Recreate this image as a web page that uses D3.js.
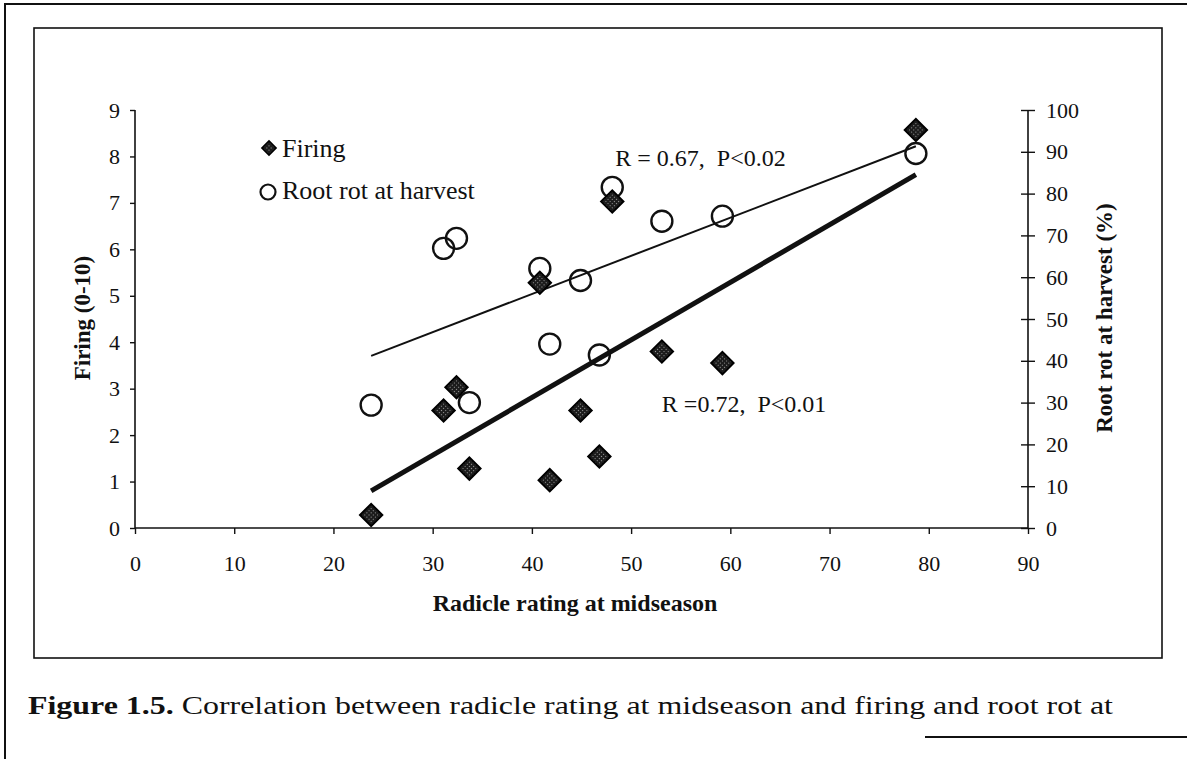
<!DOCTYPE html>
<html>
<head>
<meta charset="utf-8">
<script src="https://cdn.jsdelivr.net/npm/d3@7"></script>
<style>
  body { margin: 0; background: #fff; }
  svg { display: block; }
  text { font-family: "Liberation Serif", "Times New Roman", serif; fill: #111; }
</style>
</head>
<body>
<svg id="chart" width="1187" height="759"></svg>
<script>
// Chart data
var radicle = [23.8, 31.1, 32.4, 33.7, 40.8, 41.8, 44.9, 46.8, 48.1, 53.1, 59.2, 78.7];
var firing = [0.28, 2.53, 3.03, 1.28, 5.28, 1.03, 2.53, 1.54, 7.03, 3.80, 3.55, 8.57];
var rootRot = [29.4, 66.9, 69.3, 30.0, 62.1, 44.0, 59.2, 41.4, 81.5, 73.4, 74.6, 89.6];
var xTicks = [0, 10, 20, 30, 40, 50, 60, 70, 80, 90];
var leftTicks = [0, 1, 2, 3, 4, 5, 6, 7, 8, 9];
var rightTicks = [0, 10, 20, 30, 40, 50, 60, 70, 80, 90, 100];
var seriesNames = ["Firing", "Root rot at harvest"];
var notes = ["R = 0.67,  P<0.02", "R =0.72,  P<0.01"];
var xTitle = "Radicle rating at midseason";
var yTitleLeft = "Firing (0-10)";
var yTitleRight = "Root rot at harvest (%)";
var captionBold = "Figure 1.5.";
var captionText = " Correlation between radicle rating at midseason and firing and root rot at";

var chart = { left: 135, right: 1028, top: 110, bottom: 528 };

// Least squares fit, drawn from min x to max x
function fitLine(xs, ys) {
	let mx = d3.mean(xs), my = d3.mean(ys);
	let sxy = d3.sum(xs, (x, i) => (x - mx) * (ys[i] - my));
	let sxx = d3.sum(xs, (x) => (x - mx) * (x - mx));
	let b = sxy / sxx, a = my - b * mx;
	let x0 = d3.min(xs), x1 = d3.max(xs);
	return [[x0, a + b * x0], [x1, a + b * x1]];
}

var svg = d3.select("#chart");

// Dotted dark fill of the diamonds (printed halftone)
let pat = svg.append("defs").append("pattern")
	.attr("id", "dots")
	.attr("width", 3).attr("height", 3)
	.attr("patternUnits", "userSpaceOnUse");
pat.append("rect").attr("width", 3).attr("height", 3).attr("fill", "#1c1c1c");
pat.append("rect").attr("x", 1).attr("y", 1).attr("width", 1).attr("height", 1).attr("fill", "#9a9a9a");

let x = d3.scaleLinear().domain([0, 90]).range([chart.left, chart.right]);
let yL = d3.scaleLinear().domain([0, 9]).range([chart.bottom, chart.top]);
let yR = d3.scaleLinear().domain([0, 100]).range([chart.bottom, chart.top]);

// Frames of the scanned page
let frame = svg.append("g").attr("fill", "none").attr("stroke", "#111");
frame.append("path").attr("stroke-width", 2).attr("d", "M1187,4H5V759");
frame.append("line").attr("stroke-width", 2)
	.attr("x1", 925).attr("x2", 1187).attr("y1", 737).attr("y2", 737);
frame.append("rect").attr("stroke-width", 1.6)
	.attr("x", 34).attr("y", 28).attr("width", 1128).attr("height", 630);

// Axes
let axisFont = (g) => g.selectAll("text")
	.style("font-family", "Liberation Serif")
	.style("font-size", "22px")
	.attr("fill", "#111");

let gx = svg.append("g")
	.attr("transform", "translate(0," + chart.bottom + ")")
	.call(d3.axisBottom(x).tickValues(xTicks).tickSize(6).tickPadding(21).tickFormat(d3.format("d")))
	.call(axisFont);

let gl = svg.append("g")
	.attr("transform", "translate(" + chart.left + ",0)")
	.call(d3.axisLeft(yL).tickValues(leftTicks).tickSize(5).tickPadding(10).tickFormat(d3.format("d")))
	.call(axisFont);

let gr = svg.append("g")
	.attr("transform", "translate(" + chart.right + ",0)")
	.call(d3.axisRight(yR).tickValues(rightTicks).tickSize(7).tickPadding(11).tickFormat(d3.format("d")))
	.call(axisFont);
// right axis ticks cross the line
gr.selectAll(".tick line").attr("x1", -7).attr("x2", 7);

[gx, gl, gr].forEach((g) => {
	g.select(".domain").attr("stroke", "#111").attr("stroke-width", 1.6);
	g.selectAll(".tick line").attr("stroke", "#111").attr("stroke-width", 1.4);
});
gx.select(".domain").attr("d", "M" + chart.left + ",0H" + chart.right);
gl.select(".domain").attr("d", "M0," + chart.top + "V" + chart.bottom);
gr.select(".domain").attr("d", "M0," + chart.top + "V" + chart.bottom);

// Axis titles
svg.append("text")
	.attr("x", 575).attr("y", 611)
	.attr("text-anchor", "middle")
	.style("font-weight", "bold").style("font-size", "24px")
	.text(xTitle);

svg.append("text")
	.attr("transform", "translate(90,318) rotate(-90)")
	.attr("text-anchor", "middle")
	.style("font-weight", "bold").style("font-size", "23px")
	.text(yTitleLeft);

svg.append("text")
	.attr("transform", "translate(1112,318) rotate(-90)")
	.attr("text-anchor", "middle")
	.style("font-weight", "bold").style("font-size", "23px")
	.text(yTitleRight);

// Trend lines
let lineGen = d3.line();
let fitR = fitLine(radicle, rootRot);
let fitF = fitLine(radicle, firing);

svg.append("path")
	.attr("d", lineGen(fitR.map((p) => [x(p[0]), yR(p[1])])))
	.attr("stroke", "#111").attr("stroke-width", 2).attr("fill", "none");

svg.append("path")
	.attr("d", lineGen(fitF.map((p) => [x(p[0]), yL(p[1])])))
	.attr("stroke", "#111").attr("stroke-width", 5).attr("fill", "none");

// Root rot points (open circles)
svg.append("g").selectAll("circle")
	.data(radicle)
	.enter()
	.append("circle")
	.attr("cx", (d) => x(d))
	.attr("cy", (d, i) => yR(rootRot[i]))
	.attr("r", 10.5)
	.attr("fill", "none")
	.attr("stroke", "#111")
	.attr("stroke-width", 2.4);

// Firing points (diamonds)
let diamond = d3.symbol().type(d3.symbolSquare).size(250);
svg.append("g").selectAll("path")
	.data(radicle)
	.enter()
	.append("path")
	.attr("d", diamond)
	.attr("transform", (d, i) => "translate(" + x(d) + "," + yL(firing[i]) + ") rotate(45)")
	.attr("fill", "url(#dots)")
	.attr("stroke", "#000")
	.attr("stroke-width", 2);

// Legend
let legend = svg.append("g").attr("transform", "translate(269,0)");
legend.append("path")
	.attr("d", d3.symbol().type(d3.symbolSquare).size(100))
	.attr("transform", "translate(0,148) rotate(45)")
	.attr("fill", "url(#dots)").attr("stroke", "#000").attr("stroke-width", 1.6);
legend.append("circle")
	.attr("cx", -1).attr("cy", 192).attr("r", 7.5)
	.attr("fill", "none").attr("stroke", "#111").attr("stroke-width", 2.2);
legend.selectAll(".lbl")
	.data(seriesNames)
	.enter()
	.append("text")
	.attr("class", "lbl")
	.attr("x", 13)
	.attr("y", (d, i) => 157 + i * 42)
	.style("font-size", "26px")
	.text((d) => d);

// Correlation notes, anchored in data units
let notePos = [[48.4, 7.80], [53.1, 2.50]];
svg.selectAll(".note")
	.data(notes)
	.enter()
	.append("text")
	.attr("class", "note")
	.attr("x", (d, i) => x(notePos[i][0]))
	.attr("y", (d, i) => yL(notePos[i][1]))
	.style("font-size", "24px")
	.style("white-space", "pre")
	.text((d) => d);

// Caption
let cap = svg.append("text")
	.attr("x", 28).attr("y", 714)
	.style("font-size", "26px")
	.style("white-space", "pre")
	.attr("textLength", 1085)
	.attr("lengthAdjust", "spacingAndGlyphs");
cap.append("tspan").style("font-weight", "bold").text(captionBold);
cap.append("tspan").text(captionText);
</script>
</body>
</html>
